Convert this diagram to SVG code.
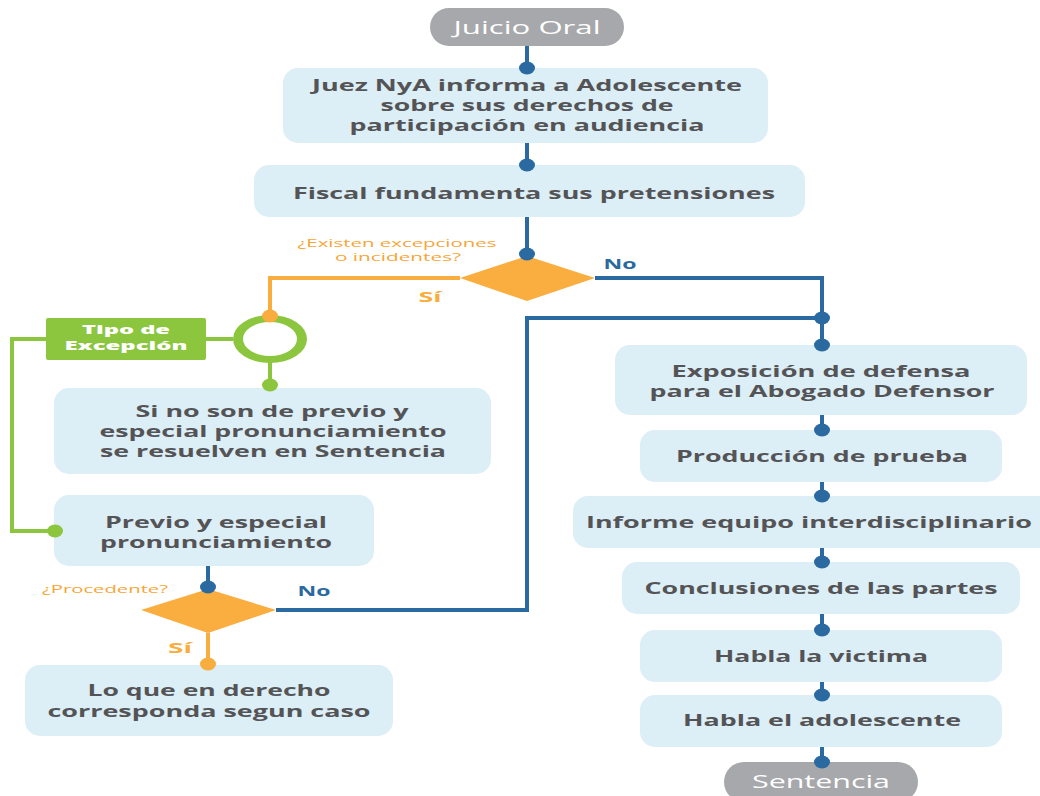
<svg xmlns="http://www.w3.org/2000/svg" width="1040" height="796" viewBox="0 0 1040 796">
<style>
.box{fill:#dcEEF6;}
.pill{fill:#a7a8ab;}
.t{font-family:"Open Sans","Liberation Sans",sans-serif;font-weight:700;font-size:16px;fill:#545456;text-anchor:middle;}
.pt{font-family:"Open Sans","Liberation Sans",sans-serif;font-weight:400;font-size:19px;fill:#ffffff;text-anchor:middle;}
.q{font-family:"Open Sans","Liberation Sans",sans-serif;font-weight:400;font-size:11.5px;fill:#f7a535;text-anchor:middle;}
.si{font-family:"Open Sans","Liberation Sans",sans-serif;font-weight:700;font-size:15px;fill:#f9ad3e;text-anchor:middle;}
.no{font-family:"Open Sans","Liberation Sans",sans-serif;font-weight:700;font-size:15px;fill:#2a6aa0;text-anchor:middle;}
.gt{font-family:"Open Sans","Liberation Sans",sans-serif;font-weight:800;font-size:12.5px;fill:#ffffff;text-anchor:middle;}
.bl{stroke:#2a6aa0;stroke-width:4;fill:none;}
.or{stroke:#f9ad3e;stroke-width:4;fill:none;}
.gr{stroke:#8cc63f;stroke-width:4;fill:none;}
.bd{fill:#2a6aa0;}
.od{fill:#f9ad3e;}
.gd{fill:#8cc63f;}
.dia{fill:#fbae40;}
</style>
<rect width="1040" height="796" fill="#ffffff"/>
<g id="n-juicio">
<rect class="pill" x="430" y="8" width="194" height="38" rx="19"/>
<text class="pt" x="527" y="34" textLength="147" lengthAdjust="spacingAndGlyphs">Juicio Oral</text>
</g>
<g id="n-juez">
<rect class="box" x="283" y="68" width="485" height="75" rx="15"/>
<text class="t" x="527" y="91" textLength="430" lengthAdjust="spacingAndGlyphs">Juez NyA informa a Adolescente</text>
<text class="t" x="527" y="111" textLength="293" lengthAdjust="spacingAndGlyphs">sobre sus derechos de</text>
<text class="t" x="527" y="131" textLength="355" lengthAdjust="spacingAndGlyphs">participación en audiencia</text>
</g>
<g id="n-fiscal">
<rect class="box" x="254" y="165" width="551" height="52" rx="15"/>
<text class="t" x="534" y="199" textLength="482" lengthAdjust="spacingAndGlyphs">Fiscal fundamenta sus pretensiones</text>
</g>
<g id="d-existen">
<polygon class="dia" points="527,256 595,278 527,301 460,278"/>
<text class="q" x="397" y="247" textLength="199" lengthAdjust="spacingAndGlyphs">¿Existen excepciones</text>
<text class="q" x="398" y="261" textLength="126" lengthAdjust="spacingAndGlyphs">o incidentes?</text>
</g>
<g id="n-ring">
<ellipse cx="270" cy="339" rx="37" ry="24" fill="#8cc63f"/>
<ellipse cx="270" cy="339" rx="27" ry="17" fill="#ffffff"/>
</g>
<g id="n-tipo">
<rect x="46" y="318" width="160" height="42" rx="2" fill="#8cc63f"/>
<text class="gt" x="126" y="334" textLength="88" lengthAdjust="spacingAndGlyphs">Tipo de</text>
<text class="gt" x="126" y="350" textLength="123" lengthAdjust="spacingAndGlyphs">Excepción</text>
</g>
<g id="n-sino">
<rect class="box" x="54" y="388" width="437" height="86" rx="15"/>
<text class="t" x="272" y="417" textLength="273" lengthAdjust="spacingAndGlyphs">Si no son de previo y</text>
<text class="t" x="273" y="437" textLength="347" lengthAdjust="spacingAndGlyphs">especial pronunciamiento</text>
<text class="t" x="273" y="457" textLength="346" lengthAdjust="spacingAndGlyphs">se resuelven en Sentencia</text>
</g>
<g id="n-previo">
<rect class="box" x="54" y="495" width="320" height="71" rx="15"/>
<text class="t" x="216" y="528" textLength="222" lengthAdjust="spacingAndGlyphs">Previo y especial</text>
<text class="t" x="216" y="548" textLength="232" lengthAdjust="spacingAndGlyphs">pronunciamiento</text>
</g>
<g id="d-procedente">
<polygon class="dia" points="208,589 276,610 208,633 141,610"/>
<text class="q" x="105" y="593" textLength="126" lengthAdjust="spacingAndGlyphs">¿Procedente?</text>
</g>
<g id="n-loque">
<rect class="box" x="25" y="665" width="368" height="71" rx="15"/>
<text class="t" x="209" y="696" textLength="243" lengthAdjust="spacingAndGlyphs">Lo que en derecho</text>
<text class="t" x="209" y="717" textLength="323" lengthAdjust="spacingAndGlyphs">corresponda segun caso</text>
</g>
<g id="n-exposicion">
<rect class="box" x="615" y="345" width="412" height="70" rx="15"/>
<text class="t" x="821" y="377" textLength="299" lengthAdjust="spacingAndGlyphs">Exposición de defensa</text>
<text class="t" x="822" y="397" textLength="345" lengthAdjust="spacingAndGlyphs">para el Abogado Defensor</text>
</g>
<g id="n-produccion">
<rect class="box" x="640" y="430" width="362" height="52" rx="15"/>
<text class="t" x="822" y="462" textLength="292" lengthAdjust="spacingAndGlyphs">Producción de prueba</text>
</g>
<g id="n-informe">
<rect class="box" x="573" y="496" width="480" height="52" rx="15"/>
<text class="t" x="809" y="528" textLength="446" lengthAdjust="spacingAndGlyphs">Informe equipo interdisciplinario</text>
</g>
<g id="n-conclusiones">
<rect class="box" x="622" y="562" width="398" height="52" rx="15"/>
<text class="t" x="821" y="594" textLength="353" lengthAdjust="spacingAndGlyphs">Conclusiones de las partes</text>
</g>
<g id="n-victima">
<rect class="box" x="640" y="630" width="362" height="52" rx="15"/>
<text class="t" x="821" y="662" textLength="214" lengthAdjust="spacingAndGlyphs">Habla la victima</text>
</g>
<g id="n-adolescente">
<rect class="box" x="640" y="695" width="362" height="52" rx="15"/>
<text class="t" x="822" y="726" textLength="278" lengthAdjust="spacingAndGlyphs">Habla el adolescente</text>
</g>
<g id="n-sentencia">
<rect class="pill" x="724" y="762" width="194" height="40" rx="20"/>
<text class="pt" x="821" y="788" textLength="138" lengthAdjust="spacingAndGlyphs">Sentencia</text>
</g>
<g id="connectors">
<path class="bl" d="M527 46V68"/>
<path class="bl" d="M527 143V165"/>
<path class="bl" d="M527 217V254"/>
<path class="bl" d="M595 278H822V345"/>
<path class="or" d="M460 278H270V316"/>
<path class="gr" d="M233 339H206"/>
<path class="gr" d="M46 339H12V531H55"/>
<path class="gr" d="M270 362V385"/>
<path class="bl" d="M208 566V587"/>
<path class="bl" d="M276 610H527V318H822"/>
<path class="or" d="M208 633V664"/>
<path class="bl" d="M822 415V430"/>
<path class="bl" d="M822 482V496"/>
<path class="bl" d="M822 548V562"/>
<path class="bl" d="M822 614V630"/>
<path class="bl" d="M822 682V695"/>
<path class="bl" d="M822 747V762"/>
<ellipse class="bd" cx="527" cy="68" rx="8" ry="6.5"/>
<ellipse class="bd" cx="527" cy="165" rx="8" ry="6.5"/>
<ellipse class="bd" cx="527" cy="254" rx="8" ry="6.5"/>
<ellipse class="bd" cx="822" cy="318" rx="8" ry="6.5"/>
<ellipse class="bd" cx="822" cy="345" rx="8" ry="6.5"/>
<ellipse class="od" cx="270" cy="316" rx="8" ry="6.5"/>
<ellipse class="gd" cx="270" cy="385" rx="8" ry="6.5"/>
<ellipse class="gd" cx="55" cy="531" rx="8" ry="6.5"/>
<ellipse class="bd" cx="208" cy="587" rx="8" ry="6.5"/>
<ellipse class="od" cx="208" cy="664" rx="8" ry="6.5"/>
<ellipse class="bd" cx="822" cy="430" rx="8" ry="6.5"/>
<ellipse class="bd" cx="822" cy="496" rx="8" ry="6.5"/>
<ellipse class="bd" cx="822" cy="562" rx="8" ry="6.5"/>
<ellipse class="bd" cx="822" cy="630" rx="8" ry="6.5"/>
<ellipse class="bd" cx="822" cy="695" rx="8" ry="6.5"/>
<ellipse class="bd" cx="822" cy="762" rx="8" ry="6.5"/>
<text class="no" x="620" y="269" textLength="33" lengthAdjust="spacingAndGlyphs">No</text>
<text class="si" x="430" y="302" textLength="23" lengthAdjust="spacingAndGlyphs">Sí</text>
<text class="no" x="314" y="596" textLength="33" lengthAdjust="spacingAndGlyphs">No</text>
<text class="si" x="180" y="653" textLength="24" lengthAdjust="spacingAndGlyphs">Sí</text>
</g>
</svg>
